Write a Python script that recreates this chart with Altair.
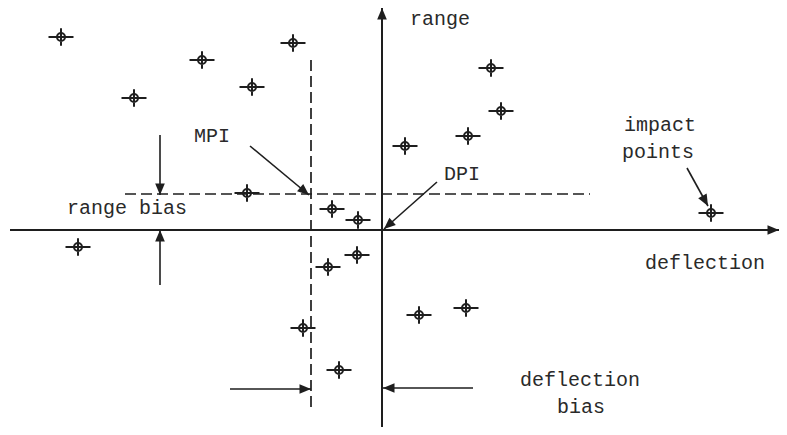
import altair as alt
import numpy as np
import pandas as pd

# Coordinates in "deflection" / "range" units, origin at the DPI
impact_x = [-321, -248, -180, -130, -89, 109, 119, 86, 23, -135, -50, -24, -304, -54, -25, -79, 37, 84, -43, 329]
impact_y = [193, 132, 170, 143, 187, 162, 119, 94, 84, 37, 21, 10, -17, -37, -25, -98, -85, -78, -140, 17]

# dashed MPI guide lines
dash_x1 = [-257, -71]
dash_y1 = [36, 170]
dash_x2 = [208, -71]
dash_y2 = [36, -178]

# arrows: start -> tip
arrow_x1 = [0, -372, -222, -222, -132, 55, 305, -152, 91]
arrow_y1 = [-197, 0, 95, -55, 84, 48, 62, -159, -158]
arrow_x2 = [0, 397, -222, -222, -73, 2, 326, -71, 1]
arrow_y2 = [222, 0, 35, 0, 35, 1, 24, -159, -158]
arrow_w = [2.0, 2.0, 1.6, 1.6, 1.6, 1.6, 1.6, 1.6, 1.6]

# labels
label_text = ["range", "MPI", "DPI", "range bias", "impact", "points", "deflection", "deflection", "bias"]
label_x = [58, -170, 80, -255, 278, 276, 323, 198, 199]
label_y = [211, 94, 56, 22, 105, 78, -33, -150, -177]

X_DOMAIN = [-374, 397]
Y_DOMAIN = [-197, 222]
INK = "#1e1e1e"

xs = alt.Scale(domain=X_DOMAIN, nice=False, zero=False)
ys = alt.Scale(domain=Y_DOMAIN, nice=False, zero=False)

pts = pd.DataFrame({"x": impact_x, "y": impact_y})
dash = pd.DataFrame({"x": dash_x1, "y": dash_y1, "x2": dash_x2, "y2": dash_y2})
arr = pd.DataFrame({"x": arrow_x1, "y": arrow_y1, "x2": arrow_x2, "y2": arrow_y2, "w": arrow_w})
arr["angle"] = np.mod(np.degrees(np.arctan2(arr["x2"] - arr["x"], arr["y2"] - arr["y"])), 360)
heads = pd.DataFrame({"x": arr["x2"], "y": arr["y2"], "angle": arr["angle"]})
labels = pd.DataFrame({"text": label_text, "x": label_x, "y": label_y})

dashed = alt.Chart(dash).mark_rule(strokeDash=[11, 5], strokeWidth=1.7, color=INK).encode(
    x=alt.X("x:Q", scale=xs, axis=None),
    y=alt.Y("y:Q", scale=ys, axis=None),
    x2="x2:Q",
    y2="y2:Q",
)

lines = alt.Chart(arr).mark_rule(color=INK).encode(
    x=alt.X("x:Q", scale=xs, axis=None),
    y=alt.Y("y:Q", scale=ys, axis=None),
    x2="x2:Q",
    y2="y2:Q",
    strokeWidth=alt.StrokeWidth("w:Q", scale=None),
)

arrowheads = alt.Chart(heads).mark_point(
    shape="M0,0L-0.42,1L0.42,1Z", filled=True, size=530, color=INK, opacity=1
).encode(
    x=alt.X("x:Q", scale=xs, axis=None),
    y=alt.Y("y:Q", scale=ys, axis=None),
    angle=alt.Angle("angle:Q", scale=None),
)

markers = alt.Chart(pts).mark_point(
    shape="M-1,0L1,0M0,-0.7L0,0.7M0.32,0A0.32,0.32 0 1 1 -0.32,0A0.32,0.32 0 1 1 0.32,0",
    filled=False, size=625, color=INK, strokeWidth=2, opacity=1,
).encode(
    x=alt.X("x:Q", scale=xs, axis=None),
    y=alt.Y("y:Q", scale=ys, axis=None),
)

text = alt.Chart(labels).mark_text(
    font="Liberation Mono", fontSize=20, color="#2a2a2a", align="center", baseline="middle"
).encode(
    x=alt.X("x:Q", scale=xs, axis=None),
    y=alt.Y("y:Q", scale=ys, axis=None),
    text="text:N",
)

chart = alt.layer(dashed, lines, arrowheads, markers, text).properties(
    width=771, height=419, padding=0, autosize=alt.AutoSizeParams(type="none"), background="white"
).configure_view(stroke=None)

chart.save("out.html", embed_options={"renderer": "svg", "actions": False})
